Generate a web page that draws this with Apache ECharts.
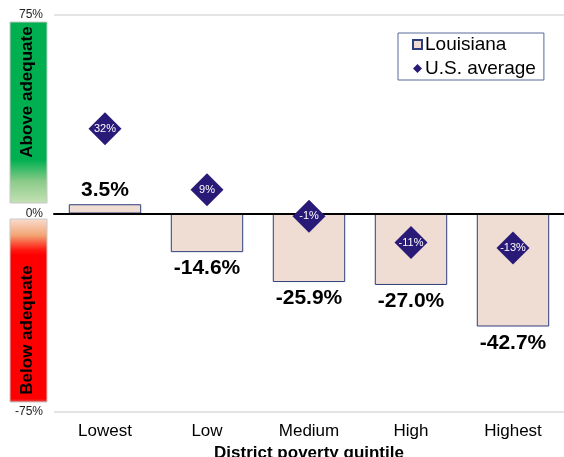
<!DOCTYPE html>
<html>
<head>
<meta charset="utf-8">
<script src="https://cdn.jsdelivr.net/npm/echarts@6/dist/echarts.min.js"></script>
<style>
  html, body { margin: 0; padding: 0; background: #fff; }
  #chart { width: 564px; height: 457px; }
</style>
</head>
<body>
<div id="chart"></div>
<script>
// data
var categories = ['Lowest', 'Low', 'Medium', 'High', 'Highest'];
var louisiana = [3.5, -14.6, -25.9, -27.0, -42.7];
var usAverage = [32, 9, -1, -11, -13];

var chart = echarts.init(document.getElementById('chart'));
var font = '"Liberation Sans", Arial, sans-serif';

var option = {
  animation: false,
  textStyle: { fontFamily: font },
  grid: { left: 54, right: 0, top: 15, bottom: 45, outerBoundsMode: 'none', containLabel: false },
  legend: {
    orient: 'vertical',
    left: 398, top: 33,
    width: 147, height: 50,
    padding: [2, 8, 2, 14],
    borderColor: '#5a6a9a', borderWidth: 1,
    itemWidth: 9, itemHeight: 9, itemGap: 5,
    textStyle: { fontSize: 19, color: '#000', fontFamily: font, padding: [0, 0, 0, -2] },
    data: [
      { name: 'Louisiana', icon: 'rect' },
      { name: 'U.S. average', icon: 'diamond' }
    ]
  },
  xAxis: {
    type: 'category',
    data: categories,
    z: 3,
    axisLine: { onZero: true, lineStyle: { color: '#000', width: 2 } },
    axisTick: { show: false },
    axisLabel: { fontSize: 17, color: '#000', margin: 11, fontFamily: font },
    name: 'District poverty quintile',
    nameLocation: 'middle',
    nameGap: 33,
    nameTextStyle: { fontSize: 17, fontWeight: 'bold', color: '#000', fontFamily: font }
  },
  yAxis: {
    type: 'value',
    min: -75, max: 75, interval: 75,
    axisLine: { show: false },
    axisTick: { show: false },
    axisLabel: { formatter: '{value}%', fontSize: 12, color: '#222', margin: 11, fontFamily: font },
    splitLine: { show: true, lineStyle: { color: '#e4e4e4', width: 2 } }
  },
  series: [
    {
      name: 'Louisiana',
      type: 'bar',
      data: louisiana.map(function (v) {
        return { value: v, label: { position: v >= 0 ? 'top' : 'bottom', distance: v >= 0 ? 4 : 6 } };
      }),
      barWidth: '71%',
      z: 2,
      itemStyle: { color: '#efdcd3', borderColor: '#2e3d7c', borderWidth: 1 },
      label: {
        show: true,
        formatter: function (p) { return p.value.toFixed(1) + '%'; },
        fontSize: 21, fontWeight: 'bold', color: '#000', fontFamily: font
      }
    },
    {
      name: 'U.S. average',
      type: 'scatter',
      data: usAverage,
      symbol: 'diamond',
      symbolSize: 33,
      z: 5,
      itemStyle: { color: '#2a1a78', opacity: 1 },
      label: {
        show: true, position: 'inside',
        formatter: '{c}%', color: '#fff', fontSize: 11, fontFamily: font
      }
    }
  ],
  graphic: [
    {
      type: 'rect', z: 1,
      shape: { x: 10, y: 22, width: 37, height: 181 },
      style: {
        stroke: '#c8c8c8', lineWidth: 1,
        fill: new echarts.graphic.LinearGradient(0, 0, 0, 1, [
          { offset: 0, color: '#00b050' },
          { offset: 0.76, color: '#00b050' },
          { offset: 0.88, color: '#8ccb8a' },
          { offset: 1, color: '#c6e2b5' }
        ])
      }
    },
    {
      type: 'text', z: 2,
      x: 27, y: 92, rotation: Math.PI / 2,
      style: { text: 'Above adequate', fill: '#000', font: 'bold 17px ' + font, align: 'center', verticalAlign: 'middle' }
    },
    {
      type: 'rect', z: 1,
      shape: { x: 10, y: 219, width: 37, height: 183 },
      style: {
        stroke: '#c8c8c8', lineWidth: 1,
        fill: new echarts.graphic.LinearGradient(0, 0, 0, 1, [
          { offset: 0, color: '#f9ddd0' },
          { offset: 0.09, color: '#f2a675' },
          { offset: 0.17, color: '#ff1a10' },
          { offset: 0.2, color: '#ff0000' },
          { offset: 0.98, color: '#ff0000' },
          { offset: 1, color: '#e05a5a' }
        ])
      }
    },
    {
      type: 'text', z: 2,
      x: 27, y: 330, rotation: Math.PI / 2,
      style: { text: 'Below adequate', fill: '#000', font: 'bold 17px ' + font, align: 'center', verticalAlign: 'middle' }
    }
  ]
};

chart.setOption(option);
</script>
</body>
</html>
